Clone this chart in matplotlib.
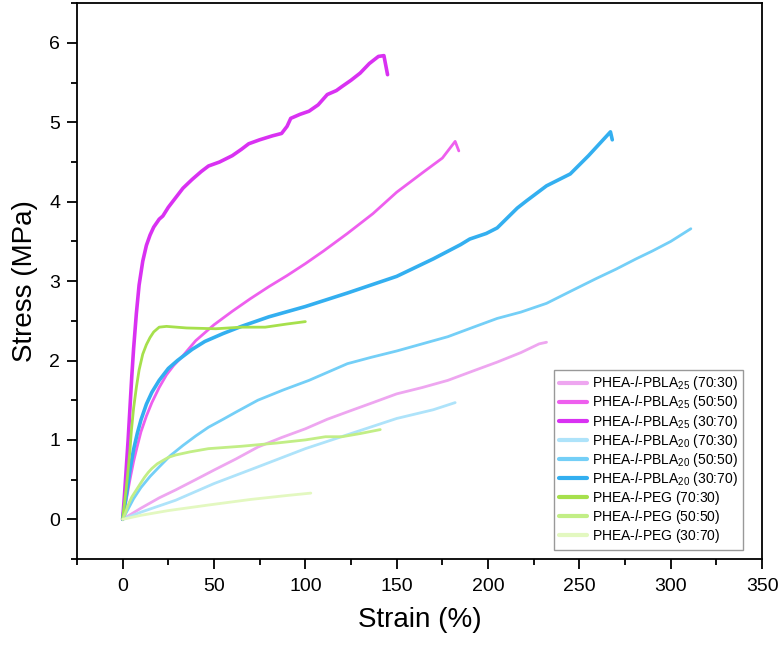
import matplotlib
matplotlib.use('Agg')
import matplotlib.pyplot as plt
from matplotlib.ticker import MultipleLocator

plt.rcParams['font.family'] = ['Liberation Sans', 'DejaVu Sans']
plt.rcParams['mathtext.fontset'] = 'custom'
plt.rcParams['mathtext.rm'] = 'Liberation Sans'
plt.rcParams['mathtext.it'] = 'Liberation Sans:italic'

# PHEA-l-PBLA25
pbla25_7030_x = [0, 5, 10, 20, 29, 40, 50, 62, 74, 87, 100, 112, 125, 137, 150, 164, 178, 192, 205, 218, 228, 232]
pbla25_7030_y = [0, 0.07, 0.14, 0.27, 0.37, 0.5, 0.62, 0.76, 0.91, 1.03, 1.14, 1.26, 1.37, 1.47, 1.58, 1.66, 1.75, 1.87, 1.98, 2.1, 2.21, 2.23]

pbla25_5050_x = [0, 2, 4, 6, 8, 10, 13, 16, 20, 24, 28, 33, 40, 50, 60, 70, 80, 90, 100, 110, 123, 137, 150, 165, 175, 182, 184]
pbla25_5050_y = [0, 0.25, 0.5, 0.73, 0.92, 1.1, 1.3, 1.47, 1.66, 1.82, 1.94, 2.06, 2.25, 2.45, 2.62, 2.78, 2.93, 3.07, 3.22, 3.38, 3.6, 3.85, 4.12, 4.38, 4.55, 4.76, 4.64]

pbla25_3070_x = [0, 1, 2, 3, 4, 5, 6, 7.5, 9, 11, 13, 15, 17, 20, 22, 25, 29, 33, 38, 43, 47, 53, 60, 65, 69, 75, 82, 87, 90, 92, 97, 102, 107, 112, 117, 120, 125, 130, 135, 140, 143, 145]
pbla25_3070_y = [0, 0.3, 0.65, 1.0, 1.4, 1.8, 2.15, 2.59, 2.95, 3.25, 3.45, 3.58, 3.68, 3.78, 3.82, 3.93, 4.05, 4.17, 4.28, 4.38, 4.45, 4.5, 4.58, 4.66, 4.73, 4.78, 4.83, 4.86, 4.95, 5.05, 5.1, 5.14, 5.22, 5.35, 5.4, 5.45, 5.53, 5.62, 5.74, 5.83, 5.84, 5.6]

# PHEA-l-PBLA20
pbla20_7030_x = [0, 10, 29, 50, 74, 100, 125, 150, 170, 182]
pbla20_7030_y = [0, 0.09, 0.24, 0.45, 0.66, 0.89, 1.08, 1.27, 1.38, 1.47]

pbla20_5050_x = [0, 3, 6, 10, 15, 20, 26, 33, 40, 47, 55, 62, 74, 88, 102, 112, 123, 136, 150, 164, 178, 192, 205, 218, 232, 245, 259, 270, 281, 290, 300, 311]
pbla20_5050_y = [0, 0.13, 0.26, 0.4, 0.54, 0.66, 0.8, 0.93, 1.05, 1.16, 1.26, 1.35, 1.5, 1.63, 1.75, 1.85, 1.96, 2.04, 2.12, 2.21, 2.3, 2.42, 2.53, 2.61, 2.72, 2.87, 3.03, 3.15, 3.28, 3.38, 3.5, 3.66]

pbla20_3070_x = [0, 2, 4, 6, 8, 10, 13, 16, 20, 25, 30, 38, 45, 55, 65, 80, 100, 123, 150, 170, 185, 190, 199, 205, 216, 221, 232, 245, 255, 263, 267, 268]
pbla20_3070_y = [0, 0.3, 0.62, 0.88, 1.08, 1.25, 1.45, 1.6, 1.75, 1.9, 2.0, 2.14, 2.24, 2.34, 2.43, 2.55, 2.68, 2.85, 3.06, 3.28, 3.46, 3.53, 3.6, 3.67, 3.92, 4.01, 4.2, 4.35, 4.58, 4.78, 4.88, 4.78]

# PHEA-l-PEG
peg_7030_x = [0, 1, 2, 2.8, 4, 4.8, 6, 7.5, 9, 11, 13, 15, 17, 20, 24, 35, 51, 65, 78, 90, 100]
peg_7030_y = [0, 0.2, 0.4, 0.58, 0.87, 1.12, 1.4, 1.66, 1.88, 2.08, 2.2, 2.29, 2.36, 2.42, 2.43, 2.41, 2.40, 2.42, 2.42, 2.46, 2.49]

peg_5050_x = [0, 1.5, 3, 5, 7.5, 10, 12, 14, 16, 19, 22, 25, 29, 33, 37, 42, 47, 65, 84, 100, 111, 120, 130, 141]
peg_5050_y = [0, 0.08, 0.18, 0.28, 0.37, 0.46, 0.53, 0.59, 0.64, 0.7, 0.74, 0.78, 0.81, 0.83, 0.85, 0.87, 0.89, 0.92, 0.96, 1.0, 1.04, 1.04, 1.08, 1.13]

peg_3070_x = [0, 10, 25, 47, 70, 90, 103]
peg_3070_y = [0, 0.05, 0.11, 0.18, 0.25, 0.3, 0.33]

labels = [
    r'PHEA-$\mathit{l}$-PBLA$_{25}$ (70:30)',
    r'PHEA-$\mathit{l}$-PBLA$_{25}$ (50:50)',
    r'PHEA-$\mathit{l}$-PBLA$_{25}$ (30:70)',
    r'PHEA-$\mathit{l}$-PBLA$_{20}$ (70:30)',
    r'PHEA-$\mathit{l}$-PBLA$_{20}$ (50:50)',
    r'PHEA-$\mathit{l}$-PBLA$_{20}$ (30:70)',
    r'PHEA-$\mathit{l}$-PEG (70:30)',
    r'PHEA-$\mathit{l}$-PEG (50:50)',
    r'PHEA-$\mathit{l}$-PEG (30:70)',
]
colors = ['#EEA6F0', '#EE5FEE', '#D931F2',
          '#AEE3FA', '#74CFF7', '#33AFF0',
          '#A6E04C', '#C2EE86', '#E3F8C0']
widths = [2.0, 2.0, 2.6, 2.0, 2.0, 2.6, 2.0, 2.0, 2.0]

series = [
    (pbla25_7030_x, pbla25_7030_y), (pbla25_5050_x, pbla25_5050_y), (pbla25_3070_x, pbla25_3070_y),
    (pbla20_7030_x, pbla20_7030_y), (pbla20_5050_x, pbla20_5050_y), (pbla20_3070_x, pbla20_3070_y),
    (peg_7030_x, peg_7030_y), (peg_5050_x, peg_5050_y), (peg_3070_x, peg_3070_y),
]

fig = plt.figure(figsize=(7.83, 6.47), dpi=100)
ax = fig.add_axes([0.0983, 0.136, 0.875, 0.859])

for (xs, ys), lab, c, lw in zip(series, labels, colors, widths):
    ax.plot(xs, ys, color=c, lw=lw, label=lab, solid_capstyle='round', solid_joinstyle='round')

ax.set_xlim(-25, 350)
ax.set_ylim(-0.5, 6.5)
ax.xaxis.set_minor_locator(MultipleLocator(25))
ax.yaxis.set_minor_locator(MultipleLocator(0.5))
ax.set_xticks(range(0, 351, 50))
ax.set_yticks(range(0, 7))

ax.tick_params(which='major', direction='out', length=7, width=1.3, labelsize=14, pad=5)
ax.tick_params(which='minor', direction='out', length=4.5, width=1.3)
ax.tick_params(axis='x', which='major', pad=7)
for s in ax.spines.values():
    s.set_linewidth(1.3)

ax.set_xlabel('Strain (%)', fontsize=20, labelpad=8)
ax.set_ylabel('Stress (MPa)', fontsize=20, labelpad=8)

leg = ax.legend(loc='lower right', bbox_to_anchor=(0.972, 0.016), borderaxespad=0,
                fontsize=10, fancybox=False, framealpha=1, edgecolor='#999999',
                handlelength=2.0, handletextpad=0.4, labelspacing=0.08, borderpad=0.35)
leg.get_frame().set_linewidth(1.0)
for line in leg.get_lines():
    line.set_linewidth(3)

fig.savefig('out.png', dpi=100)
